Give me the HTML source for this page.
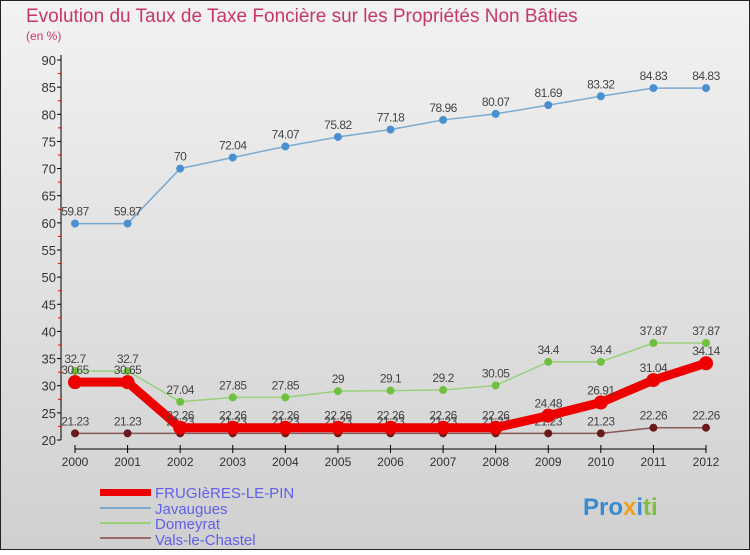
<!DOCTYPE html>
<html><head><meta charset="utf-8"><style>
body{margin:0;width:750px;height:550px;overflow:hidden;font-family:"Liberation Sans",sans-serif}
</style></head><body>
<svg id="c" width="750" height="550" xmlns="http://www.w3.org/2000/svg">
<defs><linearGradient id="bg" x1="0" y1="0" x2="0" y2="1"><stop offset="0" stop-color="#f2f2f2"/><stop offset="1" stop-color="#d0d0d0"/></linearGradient></defs>
<rect x="0" y="0" width="750" height="550" fill="url(#bg)" stroke="#222" stroke-width="2"/>
<text x="26" y="22" font-size="19" fill="#c8356a">Evolution du Taux de Taxe Foncière sur les Propriétés Non Bâties</text>
<text x="26" y="40" font-size="12" fill="#c8356a">(en %)</text>
<g id="axes"></g><g id="series"></g>
<g>
<rect x="100" y="489" width="51" height="7" fill="#e00"/>
<text x="155" y="498" font-size="15" fill="#6060e8">FRUGIèRES-LE-PIN</text>
<rect x="100" y="507" width="51" height="2" fill="#7aaad0"/>
<text x="155" y="514" font-size="15" fill="#6060e8">Javaugues</text>
<rect x="100" y="522" width="51" height="2" fill="#9ad07a"/>
<text x="155" y="529" font-size="15" fill="#6060e8">Domeyrat</text>
<rect x="100" y="537" width="51" height="2" fill="#9a6a6a"/>
<text x="155" y="545" font-size="15" fill="#6060e8">Vals-le-Chastel</text>
</g>
<g><text x="583" y="515" font-size="24" font-weight="bold" fill="#3a8ad0">Pro<tspan fill="#f0a020">x</tspan><tspan fill="#3a8ad0">i</tspan><tspan fill="#80c040">ti</tspan></text></g>
</svg>
<script>
const years=[2000,2001,2002,2003,2004,2005,2006,2007,2008,2009,2010,2011,2012];
const yTicks=[20,25,30,35,40,45,50,55,60,65,70,75,80,85,90];
const frugieres=[30.65,30.65,22.26,22.26,22.26,22.26,22.26,22.26,22.26,24.48,26.91,31.04,34.14];
const javaugues=[59.87,59.87,70,72.04,74.07,75.82,77.18,78.96,80.07,81.69,83.32,84.83,84.83];
const domeyrat=[32.7,32.7,27.04,27.85,27.85,29,29.1,29.2,30.05,34.4,34.4,37.87,37.87];
const vals=[21.23,21.23,21.23,21.23,21.23,21.23,21.23,21.23,21.23,21.23,21.23,22.26,22.26];
const NS="http://www.w3.org/2000/svg";
const X=i=>75+i*(706-75)/(years.length-1);
const Y=v=>440-(v-20)*380/70;
function mk(tag,at,parent){const e=document.createElementNS(NS,tag);for(const k in at)e.setAttribute(k,at[k]);parent.appendChild(e);return e;}
const ax=document.getElementById('axes');
let l=mk('line',{x1:61,y1:55,x2:61,y2:440,stroke:'#000'},ax);


l=mk('line',{x1:75,y1:449,x2:706,y2:449,stroke:'#000'},ax);


yTicks.forEach((t,i)=>{
 mk('line',{x1:57,y1:Y(t),x2:61,y2:Y(t),stroke:'#000'},ax);
 if(i<yTicks.length-1)mk('line',{x1:58,y1:Y(t+2.5),x2:61,y2:Y(t+2.5),stroke:'#e00'},ax);
 const tx=mk('text',{x:56,y:Y(t)+5,'font-size':13,fill:'#333','text-anchor':'end'},ax);tx.textContent=t;
 
 
});
years.forEach((yr,i)=>{
 mk('line',{x1:X(i),y1:445,x2:X(i),y2:453,stroke:'#000'},ax);
 const tx=mk('text',{x:X(i),y:466,'font-size':12,fill:'#333','text-anchor':'middle'},ax);tx.textContent=yr;
 
 
});
const sg=document.getElementById('series');
function draw(vals_,name,color,w,r,dot){
 const g=mk('g',{},sg);
 
 
 mk('polyline',{points:vals_.map((v,i)=>X(i)+','+Y(v)).join(' '),fill:'none',stroke:color,'stroke-width':w},g);
 vals_.forEach((v,i)=>{
  const c=mk('circle',{cx:X(i),cy:Y(v),r:r,fill:dot},g);
  
  
  const t=mk('text',{x:X(i),y:Y(v)-8,'font-size':12,fill:'#444','text-anchor':'middle','letter-spacing':'-0.5'},g);
  t.textContent=String(v);
  
  
 });
}
draw(vals,'vals-le-chastel','#8a5a5a',1.5,4,'#6a1a1a');
draw(domeyrat,'domeyrat','#9ad07a',1.5,4,'#70c040');
draw(javaugues,'javaugues','#7aaad0',1.5,4,'#4a90d0');
draw(frugieres,'frugieres','#e00',9,7,'#e00');
</script>
</body></html>
